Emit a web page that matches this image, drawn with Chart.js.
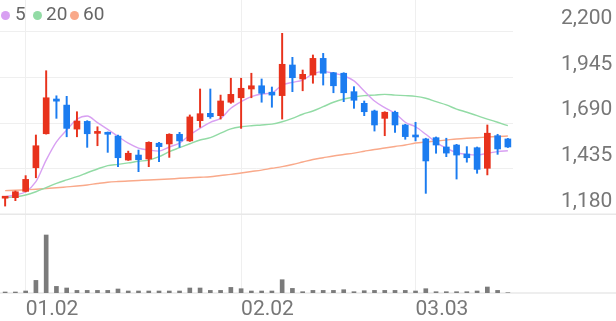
<!DOCTYPE html>
<html>
<head>
<meta charset="utf-8">
<script src="https://cdn.jsdelivr.net/npm/chart.js@4.4.1/dist/chart.umd.min.js"></script>
<style>
  html, body { margin: 0; padding: 0; background: #fff; }
  #wrap { position: relative; width: 616px; height: 321px; overflow: hidden; }
  #legend { position: absolute; left: 0; top: 0; width: 120px; height: 30px; font-family: Roboto, sans-serif; font-size: 19px; line-height: 19px; color: #666; }
  #legend .dot { position: absolute; width: 9px; height: 9px; border-radius: 50%; top: 11px; }
  #legend .txt { position: absolute; top: 4px; }
  canvas { display: block; }
</style>
</head>
<body>
<div id="wrap">
  <canvas id="c" width="616" height="321"></canvas>
  <div id="legend"></div>
</div>
<script>
// ---- data ----
const dates = ['12.29','12.30','01.02','01.05','01.06','01.07','01.08','01.09','01.12','01.13',
  '01.14','01.15','01.16','01.19','01.20','01.21','01.22','01.23','01.26','01.27',
  '01.28','01.29','01.30','02.02','02.03','02.04','02.05','02.06','02.09','02.10',
  '02.11','02.12','02.13','02.19','02.20','02.23','02.24','02.25','02.26','02.27',
  '03.03','03.04','03.05','03.06','03.09','03.10','03.11','03.12','03.13','03.16'];
const tickDates = ['01.02', '02.02', '03.03'];
const priceTicks = [1180, 1435, 1690, 1945, 2200];

const opens  = [1270,1273,1308,1440,1630,1824,1790,1656,1699,1632,
  1638,1617,1483,1511,1489,1577,1573,1627,1590,1703,
  1744,1731,1806,1831,1880,1898,1862,1843,2014,1936,
  1958,2051,1971,1968,1865,1800,1757,1716,1750,1679,
  1623,1601,1608,1556,1567,1517,1552,1437,1619,1601];
const highs  = [1280,1310,1396,1623,1982,1842,1839,1753,1703,1669,
  1640,1623,1533,1539,1585,1582,1630,1638,1735,1880,
  1880,1846,1940,1940,1968,1936,1891,2191,2057,1986,
  2070,2079,1973,1971,1893,1813,1762,1753,1757,1683,
  1694,1605,1612,1605,1571,1558,1556,1679,1627,1604];
const lows   = [1226,1256,1305,1384,1628,1716,1613,1613,1554,1563,
  1526,1446,1481,1418,1446,1474,1498,1554,1587,1666,
  1716,1712,1800,1660,1831,1806,1778,1712,1865,1870,
  1912,1902,1859,1809,1772,1731,1645,1619,1638,1599,
  1590,1297,1521,1502,1377,1471,1409,1400,1515,1553];
const closes = [1278,1306,1375,1563,1831,1812,1660,1701,1630,1636,
  1627,1496,1521,1485,1582,1558,1627,1590,1724,1742,
  1725,1813,1850,1884,1898,1856,1846,2018,1943,1962,
  2051,1968,1898,1859,1817,1753,1679,1750,1679,1614,
  1612,1478,1567,1522,1511,1496,1431,1633,1545,1556];
const volumes = [100,100,200,1260,5800,660,500,260,260,260,
  260,400,200,200,200,200,200,200,500,500,
  260,260,560,430,200,200,200,1330,460,130,
  260,260,260,330,130,230,260,260,260,260,
  200,430,130,130,130,130,200,600,260,30];
const ma5  = [1278,1288,1306,1362,1483,1585,1651,1711,1729,1692,
  1654,1615,1577,1550,1539,1533,1556,1578,1623,1660,
  1694,1716,1772,1809,1837,1852,1858,1902,1917,1930,
  1964,1977,1968,1954,1925,1869,1813,1776,1744,1694,
  1669,1627,1582,1549,1524,1515,1511,1521,1530,1535];
const ma20 = [1273,1278,1288,1306,1329,1353,1372,1390,1412,1433,
  1452,1459,1467,1476,1483,1502,1530,1552,1574,1595,
  1608,1633,1657,1669,1675,1679,1684,1697,1716,1739,
  1757,1781,1806,1824,1835,1843,1846,1850,1846,1843,
  1839,1828,1809,1791,1768,1750,1731,1712,1694,1675];
const ma60 = [1312,1314,1317,1320,1324,1328,1333,1338,1344,1352,
  1359,1363,1366,1369,1372,1374,1377,1381,1384,1387,
  1390,1397,1403,1411,1419,1427,1437,1446,1458,1472,
  1486,1496,1506,1514,1522,1532,1542,1550,1559,1567,
  1578,1584,1589,1595,1601,1605,1608,1612,1615,1617];
const maLabels = ['5', '20', '60'];

// ---- styles ----
const UP = '#e8321c', DOWN = '#1b7cf0';
const MA_COLORS = ['#d8a0f2', '#92dba5', '#f9a98a'];
const GRID = '#efefef';
const candleColors = closes.map((c, i) => c >= opens[i] ? UP : DOWN);

// legend (HTML text)
const legendPos = [[1, 15], [33, 46], [69.5, 83]];
const legendEl = document.getElementById('legend');
maLabels.forEach((t, i) => {
  const d = document.createElement('span');
  d.className = 'dot'; d.style.left = legendPos[i][0] + 'px'; d.style.background = MA_COLORS[i];
  const s = document.createElement('span');
  s.className = 'txt'; s.style.left = legendPos[i][1] + 'px'; s.textContent = t;
  legendEl.appendChild(d); legendEl.appendChild(s);
});

const separators = {
  id: 'separators',
  beforeDatasetsDraw(chart) {
    const { ctx, scales } = chart;
    ctx.save();
    ctx.strokeStyle = '#e8e8e8';
    ctx.lineWidth = 1.5;
    [scales.y.getPixelForValue(priceTicks[0]), scales.yv.getPixelForValue(0)].forEach(py => {
      ctx.beginPath(); ctx.moveTo(0, py); ctx.lineTo(chart.width, py); ctx.stroke();
    });
    ctx.restore();
  }
};

const maDataset = (data, i) => ({
  type: 'line', label: 'MA' + maLabels[i], data, yAxisID: 'y',
  borderColor: MA_COLORS[i], borderWidth: 1.4, pointRadius: 0,
  cubicInterpolationMode: 'monotone', fill: false, order: 10 + i
});

new Chart(document.getElementById('c'), {
  type: 'bar',
  data: {
    labels: dates,
    datasets: [
      maDataset(ma5, 0), maDataset(ma20, 1), maDataset(ma60, 2),
      { label: 'body', data: opens.map((o, i) => [o, closes[i]]), backgroundColor: candleColors,
        barThickness: 6, minBarLength: 2, grouped: false, yAxisID: 'y', order: 1 },
      { label: 'wick', data: lows.map((l, i) => [l, highs[i]]), backgroundColor: candleColors,
        barThickness: 1.3, grouped: false, yAxisID: 'y', order: 2 },
      { label: 'volume', data: volumes, backgroundColor: '#7b7b7b',
        barThickness: 4, grouped: false, yAxisID: 'yv', order: 3 }
    ]
  },
  options: {
    responsive: false, animation: false, devicePixelRatio: 1,
    layout: { padding: { left: 0, right: 4, top: 0, bottom: 0 } },
    plugins: { legend: { display: false }, tooltip: { enabled: false } },
    scales: {
      x: {
        offset: true,
        grid: { offset: false, color: GRID, drawTicks: false },
        border: { display: false },
        afterBuildTicks(s) { s.ticks = tickDates.map(d => ({ value: dates.indexOf(d) })); },
        ticks: { autoSkip: false, maxRotation: 0, align: 'start', padding: 4, color: '#777',
          font: { family: 'Roboto', size: 21 }, callback: (v) => dates[v] },
        afterFit(s) { s.height = 28; s.paddingLeft = 0; s.paddingRight = 0; }
      },
      y: {
        position: 'right', min: 740.4, max: 2377.1,
        grid: { color: GRID, drawTicks: false },
        border: { display: false },
        afterBuildTicks(s) { s.ticks = priceTicks.map(v => ({ value: v })); },
        ticks: { padding: 48, crossAlign: 'near', labelOffset: -13, color: '#777',
          font: { family: 'Roboto', size: 21 }, callback: (v) => v.toLocaleString('en-US') },
        afterFit(s) { s.width = 99; s.paddingTop = 0; s.paddingBottom = 0; }
      },
      yv: { display: false, min: 0, max: 29300 }
    }
  },
  plugins: [separators]
});
</script>
</body>
</html>
